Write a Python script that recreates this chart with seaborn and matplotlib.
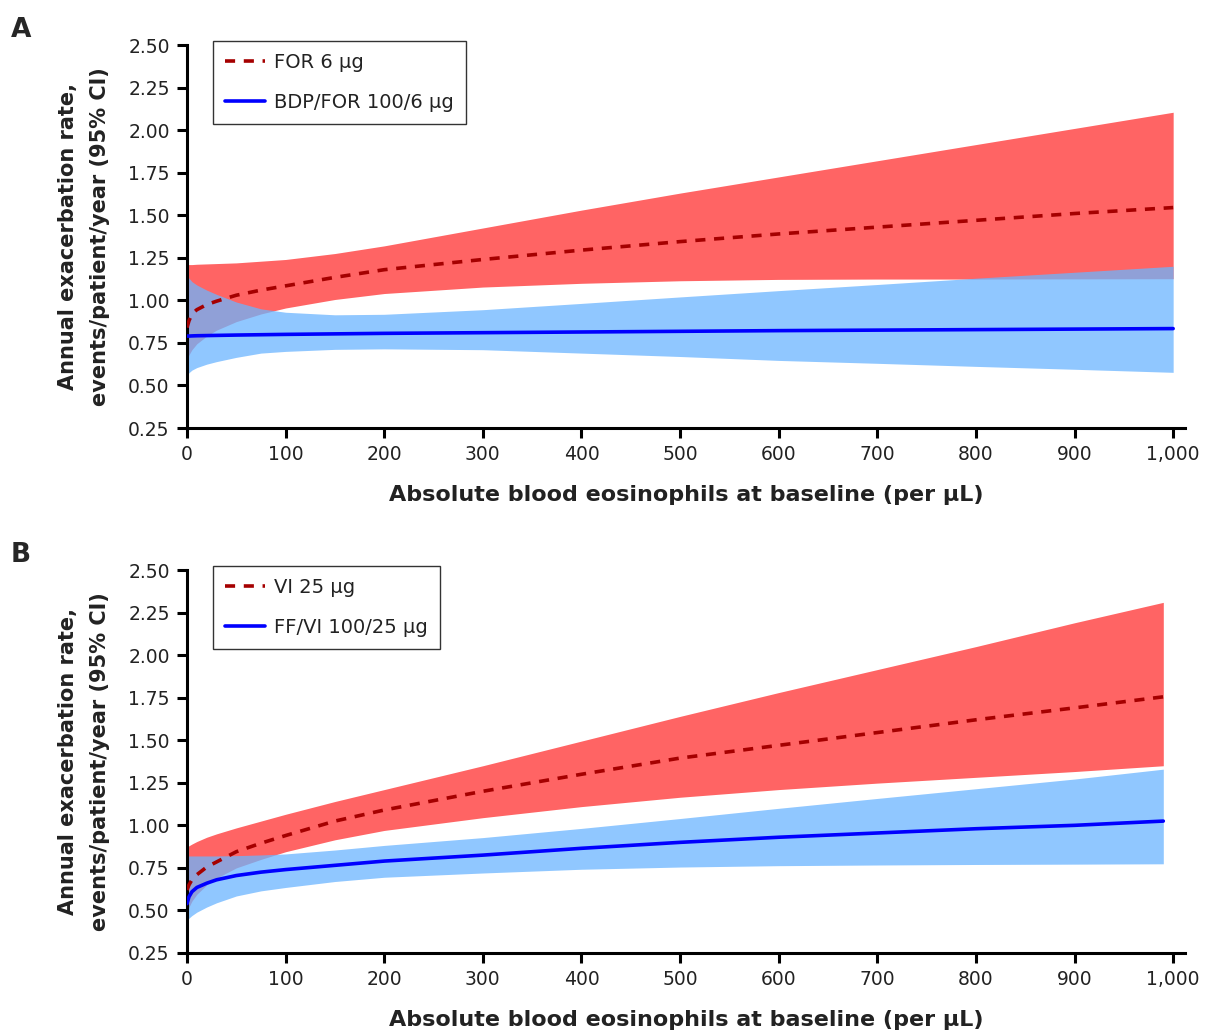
import numpy as np
import pandas as pd
import matplotlib
matplotlib.use("Agg")
import matplotlib.pyplot as plt
import seaborn as sns

# ---------------- data ----------------
# Panel A
eos_a = [0, 2, 5, 10, 20, 30, 50, 75, 100, 150, 200, 300, 400, 500, 600, 700, 800, 900, 1000]
for_rate = [0.84, 0.88, 0.92, 0.945, 0.975, 0.995, 1.03, 1.06, 1.085, 1.135, 1.18, 1.24, 1.295, 1.345, 1.39, 1.43, 1.47, 1.51, 1.545]
for_hi = [1.21, 1.21, 1.21, 1.212, 1.214, 1.216, 1.22, 1.23, 1.24, 1.275, 1.32, 1.425, 1.53, 1.63, 1.725, 1.82, 1.915, 2.01, 2.105]
for_lo = [0.65, 0.68, 0.71, 0.745, 0.79, 0.825, 0.875, 0.92, 0.955, 1.005, 1.04, 1.078, 1.10, 1.115, 1.123, 1.125, 1.125, 1.126, 1.127]
bdp_rate = [0.79, 0.79, 0.791, 0.792, 0.793, 0.794, 0.796, 0.798, 0.80, 0.803, 0.806, 0.81, 0.814, 0.818, 0.822, 0.825, 0.828, 0.831, 0.834]
bdp_hi = [1.145, 1.13, 1.11, 1.09, 1.06, 1.035, 0.99, 0.95, 0.93, 0.915, 0.918, 0.945, 0.982, 1.02, 1.057, 1.093, 1.13, 1.165, 1.20]
bdp_lo = [0.56, 0.575, 0.59, 0.605, 0.625, 0.64, 0.665, 0.69, 0.70, 0.712, 0.715, 0.71, 0.69, 0.67, 0.647, 0.63, 0.612, 0.595, 0.577]

# Panel B
eos_b = [0, 2, 5, 10, 20, 30, 50, 75, 100, 150, 200, 300, 400, 500, 600, 700, 800, 900, 990]
vi_rate = [0.62, 0.65, 0.68, 0.71, 0.755, 0.785, 0.845, 0.895, 0.94, 1.025, 1.09, 1.20, 1.30, 1.395, 1.47, 1.545, 1.62, 1.69, 1.755]
vi_hi = [0.87, 0.88, 0.89, 0.905, 0.93, 0.95, 0.985, 1.025, 1.065, 1.14, 1.21, 1.35, 1.495, 1.64, 1.78, 1.915, 2.05, 2.19, 2.31]
vi_lo = [0.49, 0.52, 0.555, 0.595, 0.65, 0.69, 0.75, 0.80, 0.845, 0.915, 0.97, 1.045, 1.11, 1.165, 1.21, 1.248, 1.282, 1.316, 1.35]
ffvi_rate = [0.54, 0.58, 0.61, 0.635, 0.66, 0.68, 0.705, 0.725, 0.74, 0.765, 0.79, 0.825, 0.865, 0.90, 0.93, 0.955, 0.98, 1.00, 1.025]
ffvi_hi = [0.82, 0.82, 0.82, 0.82, 0.82, 0.82, 0.822, 0.826, 0.832, 0.855, 0.882, 0.928, 0.982, 1.04, 1.10, 1.158, 1.215, 1.272, 1.33]
ffvi_lo = [0.44, 0.455, 0.47, 0.49, 0.52, 0.545, 0.585, 0.615, 0.635, 0.67, 0.695, 0.72, 0.742, 0.755, 0.763, 0.767, 0.77, 0.772, 0.774]

labels_a = ["FOR 6 µg", "BDP/FOR 100/6 µg"]
labels_b = ["VI 25 µg", "FF/VI 100/25 µg"]
x_ticks = [0, 100, 200, 300, 400, 500, 600, 700, 800, 900, 1000]
x_ticklabels = ["0", "100", "200", "300", "400", "500", "600", "700", "800", "900", "1,000"]
y_ticks = [0.25, 0.50, 0.75, 1.00, 1.25, 1.50, 1.75, 2.00, 2.25, 2.50]
x_title = "Absolute blood eosinophils at baseline (per µL)"
y_title = "Annual exacerbation rate,\nevents/patient/year (95% CI)"

# ---------------- style ----------------
sns.set_style("ticks")
plt.rcParams['font.family'] = ['DejaVu Sans']

RED_FILL = "#FF6464"
BLUE_FILL = (107/255, 181/255, 1.0)
RED_LINE = "#A50000"
BLUE_LINE = "#0000FF"
TXT = "#222222"

W, H = 1207, 1032
fig = plt.figure(figsize=(W/100, H/100), dpi=100)

def px_axes(left, right, top, bottom):
    return fig.add_axes([left/W, 1 - bottom/H, (right-left)/W, (bottom-top)/H])

axA = px_axes(187, 1185, 45, 428)
axB = px_axes(187, 1185, 570, 953)

panels = [
    (axA, eos_a, for_rate, for_lo, for_hi, bdp_rate, bdp_lo, bdp_hi, labels_a),
    (axB, eos_b, vi_rate, vi_lo, vi_hi, ffvi_rate, ffvi_lo, ffvi_hi, labels_b),
]

for ax, x, r1, lo1, hi1, r2, lo2, hi2, labs in panels:
    df = pd.DataFrame({"x": x, "r1": r1, "lo1": lo1, "hi1": hi1,
                       "r2": r2, "lo2": lo2, "hi2": hi2})
    ax.fill_between(df["x"], df["lo1"], df["hi1"], color=RED_FILL, linewidth=0, zorder=1)
    ax.fill_between(df["x"], df["lo2"], df["hi2"], color=BLUE_FILL, alpha=0.75, linewidth=0, zorder=2)
    sns.lineplot(data=df, x="x", y="r1", ax=ax, color=RED_LINE, linewidth=2.6,
                 linestyle=(0, (2.8, 2.4)), label=labs[0], errorbar=None, zorder=3)
    sns.lineplot(data=df, x="x", y="r2", ax=ax, color=BLUE_LINE, linewidth=2.6,
                 label=labs[1], errorbar=None, zorder=4)

    ax.set_xlim(0, 1012)
    ax.set_ylim(0.25, 2.5)
    ax.set_xticks(x_ticks)
    ax.set_xticklabels(x_ticklabels)
    ax.set_yticks(y_ticks)
    ax.set_yticklabels([f"{v:.2f}" for v in y_ticks])
    sns.despine(ax=ax)
    for s in ["left", "bottom"]:
        ax.spines[s].set_linewidth(2.2)
        ax.spines[s].set_color("black")
    ax.tick_params(axis="both", which="major", length=7, width=2.2, color="black",
                   labelsize=13.5, labelcolor=TXT, direction="out", pad=5.5)
    ax.set_xlabel(x_title, fontsize=16, fontweight="bold", labelpad=14.5, color=TXT)
    ax.set_ylabel(y_title, fontsize=15, fontweight="bold", labelpad=13, color=TXT,
                  linespacing=1.75)
    leg = ax.legend(loc="upper left", bbox_to_anchor=(0.026, 1.01), borderaxespad=0,
                    fontsize=14, frameon=True, fancybox=False, framealpha=1,
                    edgecolor="#333333", handlelength=2.1, handletextpad=0.45,
                    labelspacing=1.1, borderpad=0.6)
    leg.get_frame().set_linewidth(1.0)
    for t in leg.get_texts():
        t.set_color(TXT)

fig.text(11/W, 1 - 37/H, "A", fontsize=19, fontweight="bold", va="baseline", ha="left")
fig.text(11/W, 1 - 562/H, "B", fontsize=19, fontweight="bold", va="baseline", ha="left")

fig.savefig("out.png", dpi=100)
